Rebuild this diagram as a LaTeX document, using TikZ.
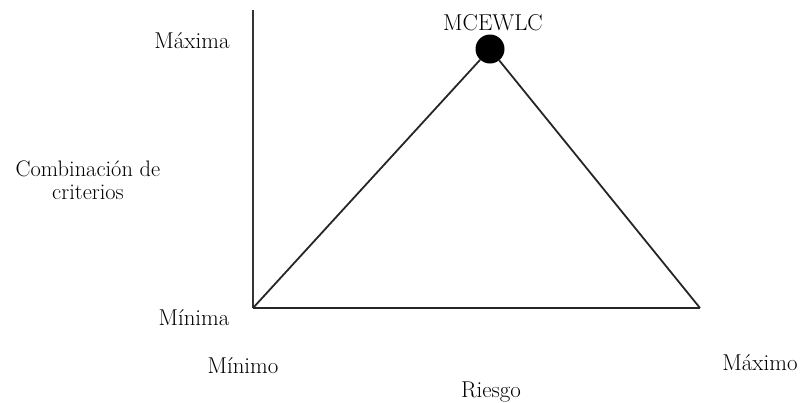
\documentclass[tikz,border=0pt]{standalone}
\begin{document}
\begin{tikzpicture}[x=1bp,y=-1bp,
  lbl/.style={anchor=base,inner sep=0pt,font=\fontsize{23}{27}\selectfont},
  axis/.style={draw=black!80,line width=1.8bp},
  edge/.style={draw=black!85,line width=1.8bp}]
\useasboundingbox (0,0) rectangle (803,402);
\coordinate (top) at (253,10);
\coordinate (origin) at (253,308);
\coordinate (right) at (700,308);
\node[circle,fill=black,minimum size=29bp,inner sep=0pt] (peak) at (490,49) {};
\draw[axis] (top) -- (origin);
\draw[edge] (origin) -- (right);
\draw[edge] (origin) -- (peak);
\draw[edge] (right) -- (peak);
\node[lbl] (mc) at (493,30) {MCEWLC};
\node[lbl] (maxa) at (192,48) {Máxima};
\node[lbl,align=center,font=\fontsize{22.5}{22.5}\selectfont] (comb) at (88,199) {Combinación de\\criterios};
\node[lbl] (mina) at (194,325) {Mínima};
\node[lbl] (mino) at (243,373) {Mínimo};
\node[lbl] (maxo) at (760,370) {Máximo};
\node[lbl] (ries) at (491,397) {Riesgo};
\end{tikzpicture}
\end{document}
